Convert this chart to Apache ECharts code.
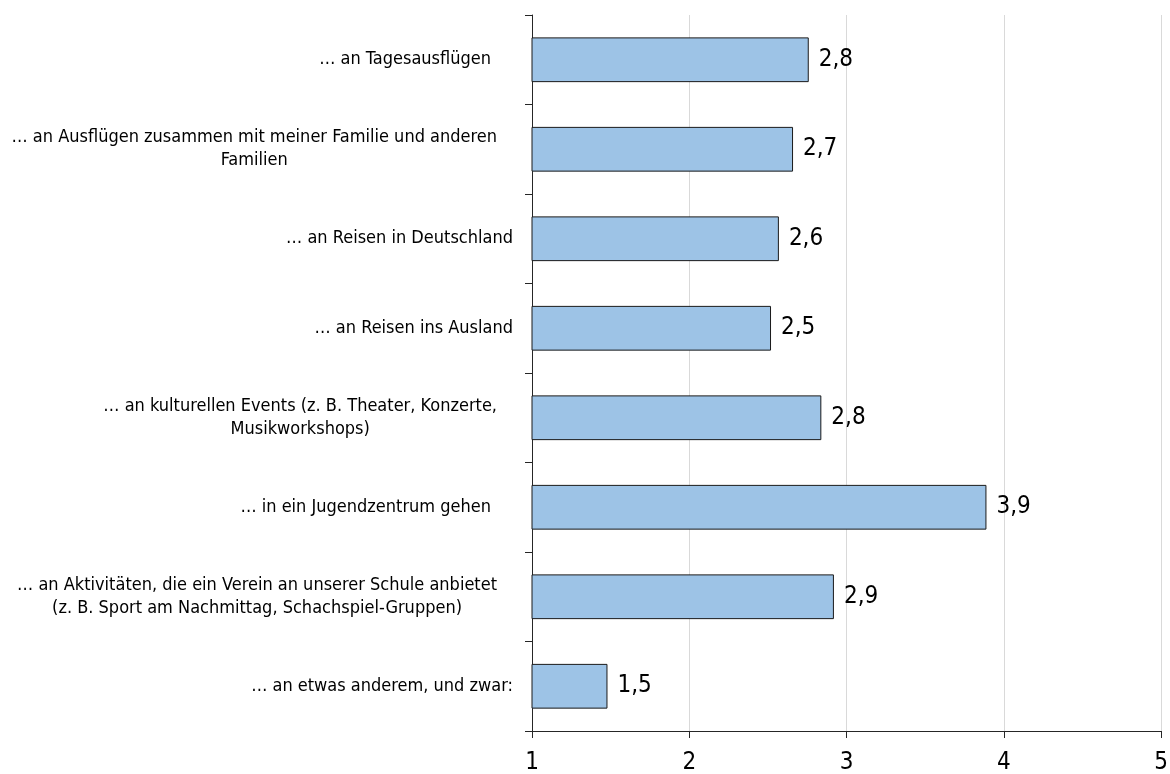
<!DOCTYPE html>
<html>
<head>
<meta charset="utf-8">
<title>Chart</title>
<script src="https://cdn.jsdelivr.net/npm/echarts@6/dist/echarts.min.js"></script>
<style>
  html, body { margin: 0; padding: 0; background: #fff; }
  #chart { width: 1170px; height: 774px; }
</style>
</head>
<body>
<div id="chart"></div>
<script>
// Kategorien (von oben nach unten), Zeilenumbrüche wie im Original
const categories = [
  '… an Tagesausflügen ',
  '… an Ausflügen zusammen mit meiner Familie und anderen\nFamilien',
  '… an Reisen in Deutschland',
  '… an Reisen ins Ausland',
  '… an kulturellen Events (z. B. Theater, Konzerte,\nMusikworkshops)',
  '… in ein Jugendzentrum gehen ',
  '… an Aktivitäten, die ein Verein an unserer Schule anbietet\n(z. B. Sport am Nachmittag, Schachspiel-Gruppen)',
  '… an etwas anderem, und zwar:'
]
// Mittelwerte
const values = [2.76, 2.66, 2.57, 2.52, 2.84, 3.89, 2.92, 1.48]
const axisTicks = [1, 2, 3, 4, 5]

const FONT = '"DejaVu Sans Condensed", "DejaVu Sans", sans-serif'
const labelBase = { fontSize: 18, fontFamily: FONT, color: '#000', lineHeight: 23, align: 'center' }

const chart = echarts.init(document.getElementById('chart'))
chart.setOption({
  animation: false,
  grid: {
    left: 532,
    right: 9,
    top: 15,
    bottom: 43,
    outerBoundsMode: 'none'
  },
  xAxis: {
    type: 'value',
    min: axisTicks[0],
    max: axisTicks[axisTicks.length - 1],
    interval: 1,
    axisLine: { show: true, lineStyle: { color: '#262626', width: 1 } },
    axisTick: { show: true, length: 7, lineStyle: { color: '#262626' } },
    splitLine: { show: true, lineStyle: { color: '#d9d9d9', width: 1 } },
    axisLabel: {
      fontSize: 24,
      fontFamily: FONT,
      color: '#000',
      margin: 20
    }
  },
  yAxis: {
    type: 'category',
    inverse: true,
    data: categories,
    axisLine: { show: true, lineStyle: { color: '#262626', width: 1 } },
    axisTick: { show: true, length: 7, inside: false, lineStyle: { color: '#262626' } },
    splitLine: { show: false },
    axisLabel: {
      margin: 19,
      formatter: function (v) {
        // Leerzeichen am Ende -> etwas mehr Abstand, mehrzeilig -> zentriert
        const trail = /\s$/.test(v)
        const lines = v.trim().split('\n')
        const s = trail ? 'p' : (lines.length > 1 ? 'm' : 'n')
        return lines.map(l => '{' + s + '|' + l + '}').join('\n')
      },
      rich: {
        n: labelBase,
        m: Object.assign({}, labelBase, { padding: [0, 16, 0, 0] }),
        p: Object.assign({}, labelBase, { padding: [0, 22, 0, 0] })
      }
    }
  },
  series: [
    {
      type: 'bar',
      data: values,
      barWidth: '50%',
      clip: true,
      itemStyle: {
        color: '#9dc3e6',
        borderColor: '#1a1a1a',
        borderWidth: 1
      },
      label: {
        show: true,
        position: 'right',
        distance: 10,
        fontSize: 24,
        fontFamily: FONT,
        color: '#000',
        formatter: p => p.value.toFixed(1).replace('.', ',')
      }
    }
  ]
})
</script>
</body>
</html>
